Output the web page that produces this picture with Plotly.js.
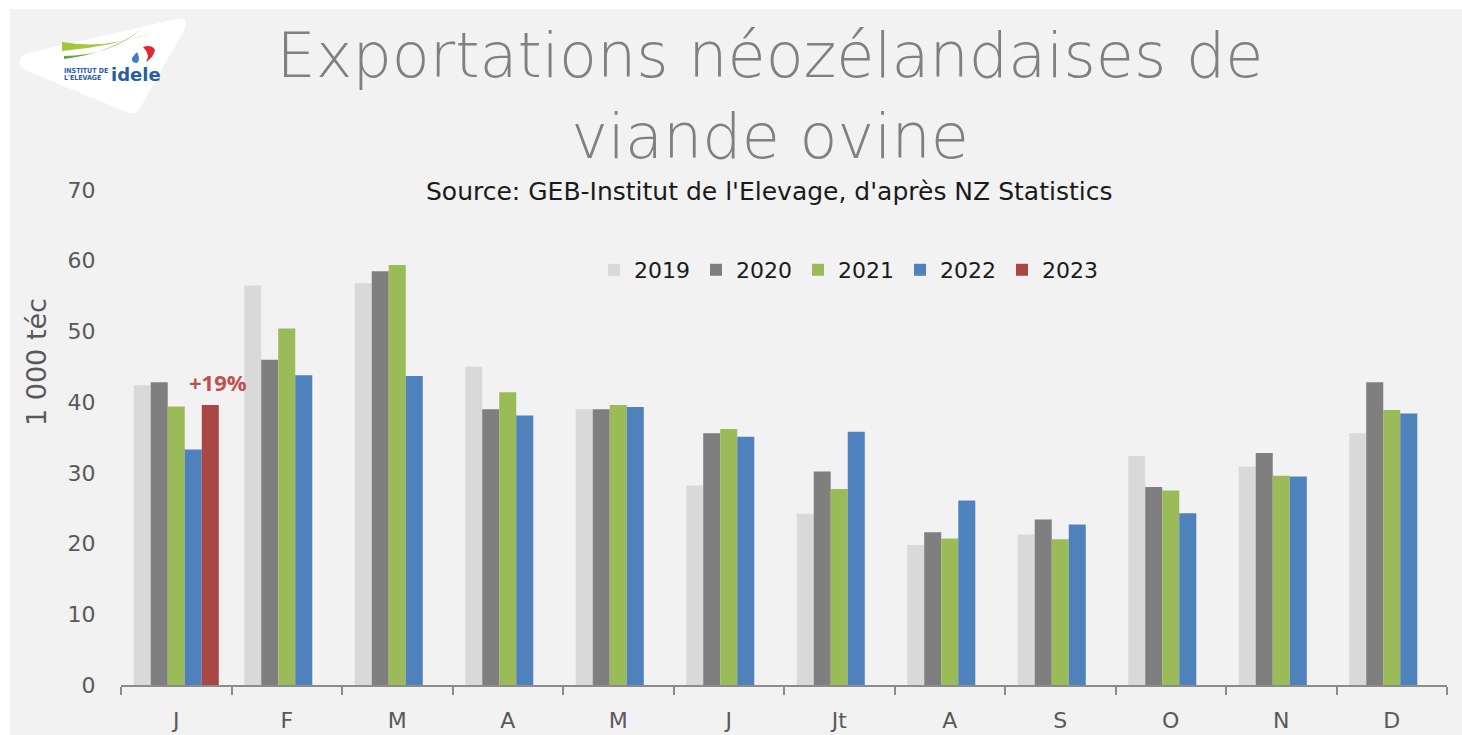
<!DOCTYPE html>
<html>
<head>
<meta charset="utf-8">
<script src="https://cdn.plot.ly/plotly-3.0.1.min.js"></script>
<style>
  html, body { margin: 0; padding: 0; background: #ffffff; }
  #chart { position: absolute; left: 10px; top: 9px; width: 1452px; height: 726px; }
</style>
</head>
<body>
<div id="chart"></div>
<script>
// ---- Data ----
const months = ['J', 'F', 'M', 'A', 'M', 'J', 'Jt', 'A', 'S', 'O', 'N', 'D'];
const years = ['2019', '2020', '2021', '2022', '2023'];
const v2019 = [42.4, 56.5, 56.8, 45.0, 39.0, 28.2, 24.2, 19.8, 21.3, 32.4, 30.9, 35.6];
const v2020 = [42.8, 46.0, 58.5, 39.0, 39.0, 35.6, 30.2, 21.6, 23.4, 28.0, 32.8, 42.8];
const v2021 = [39.4, 50.4, 59.4, 41.4, 39.6, 36.2, 27.7, 20.7, 20.6, 27.5, 29.6, 38.9];
const v2022 = [33.3, 43.8, 43.7, 38.1, 39.3, 35.1, 35.8, 26.1, 22.7, 24.3, 29.5, 38.4];
const v2023 = [39.6, null, null, null, null, null, null, null, null, null, null, null];
const yTicks = [0, 10, 20, 30, 40, 50, 60, 70];
const seriesValues = [v2019, v2020, v2021, v2022, v2023];
const colors = ['#d9d9d9', '#7f7f7f', '#9bbb59', '#4f81bd', '#aa4643'];

const FONT = '"DejaVu Sans", sans-serif';
const monthIdx = months.map((m, i) => i);

const traces = years.map((yr, k) => ({
  type: 'bar',
  name: yr,
  x: monthIdx,
  y: seriesValues[k],
  marker: { color: colors[k] },
  hoverinfo: 'skip'
}));

// page-pixel -> paper helpers (plot area: x 121..1447, y 190..685 on the page)
const PX0 = 121, PX1 = 1447, PY0 = 190, PY1 = 685;
const px = x => (x - PX0) / (PX1 - PX0);
const py = y => (PY1 - y) / (PY1 - PY0);
function path(pts) {
  return pts.map(p => {
    if (p[0] === 'Z') return 'Z';
    const out = [p[0]];
    for (let i = 1; i < p.length; i += 2) out.push(px(p[i]).toFixed(5) + ',' + py(p[i + 1]).toFixed(5));
    return out.join(' ');
  }).join(' ');
}

const shapes = [
  // logo white badge
  { type: 'path', xref: 'paper', yref: 'paper', layer: 'above',
    path: path([['M', 24, 54], ['L', 176, 19], ['Q', 190, 16, 184, 30], ['L', 140, 108], ['Q', 134, 117, 124, 111], ['L', 27, 71], ['Q', 14, 64, 24, 54], ['Z']]),
    fillcolor: '#ffffff', line: { width: 0 } },
  // green swooshes
  { type: 'path', xref: 'paper', yref: 'paper', layer: 'above',
    path: path([['M', 62, 42], ['Q', 105, 50, 155, 32], ['Q', 110, 47, 62, 51], ['Z']]),
    fillcolor: '#a8c63c', line: { width: 0 } },
  { type: 'path', xref: 'paper', yref: 'paper', layer: 'above',
    path: path([['M', 64, 56], ['Q', 110, 56, 143, 28], ['Q', 112, 53, 64, 59], ['Z']]),
    fillcolor: '#5fa83a', line: { width: 0 } },
  // red flag
  { type: 'path', xref: 'paper', yref: 'paper', layer: 'above',
    path: path([['M', 143, 47], ['Q', 152, 44, 155, 50], ['Q', 153, 58, 146, 62], ['Q', 151, 55, 143, 47], ['Z']]),
    fillcolor: '#e4262f', line: { width: 0 } },
  // blue drop
  { type: 'path', xref: 'paper', yref: 'paper', layer: 'above',
    path: path([['M', 137, 52], ['Q', 141, 60, 137, 63], ['Q', 131, 63, 132, 58], ['Q', 134, 55, 137, 52], ['Z']]),
    fillcolor: '#3d82c4', line: { width: 0 } }
];

const annotations = [
  { xref: 'paper', yref: 'paper', x: px(769), y: py(191), text: "Source: GEB-Institut de l'Elevage, d'après NZ Statistics",
    showarrow: false, xanchor: 'center', yanchor: 'middle', font: { family: FONT, size: 25, color: '#1a1a1a' } },
  { xref: 'paper', yref: 'paper', x: px(36), y: py(362), text: '1 000 téc', textangle: -90,
    showarrow: false, xanchor: 'center', yanchor: 'middle', font: { family: FONT, size: 27, color: '#595959' } },
  { xref: 'paper', yref: 'paper', x: px(218), y: py(382), text: '<b>+19%</b>',
    showarrow: false, xanchor: 'center', yanchor: 'middle', font: { family: '"Open Sans", sans-serif', size: 22, color: '#c0504d' } },
  // logo text
  { xref: 'paper', yref: 'paper', x: px(62), y: py(71), text: '<b>INSTITUT DE</b>',
    showarrow: false, xanchor: 'left', yanchor: 'middle', font: { family: '"DejaVu Sans Condensed", sans-serif', size: 7, color: '#2a5ca8' } },
  { xref: 'paper', yref: 'paper', x: px(62), y: py(78), text: "<b>L'ELEVAGE</b>",
    showarrow: false, xanchor: 'left', yanchor: 'middle', font: { family: '"DejaVu Sans Condensed", sans-serif', size: 7, color: '#2a5ca8' } },
  { xref: 'paper', yref: 'paper', x: px(136), y: py(74), text: '<b>idele</b>',
    showarrow: false, xanchor: 'center', yanchor: 'middle', font: { family: '"DejaVu Sans", sans-serif', size: 18, color: '#2a5ca8' } }
];

const layout = {
  width: 1452, height: 726,
  paper_bgcolor: '#f2f2f2', plot_bgcolor: '#f2f2f2',
  margin: { l: 111, r: 15, t: 181, b: 50 },
  barmode: 'group', bargap: 0.23, bargroupgap: 0,
  font: { family: FONT, color: '#595959' },
  title: {
    text: 'Exportations néozélandaises de<br>viande ovine',
    font: { family: FONT, size: 62, color: '#808080', weight: 200 },
    xref: 'container', x: (770 - 10) / 1452, xanchor: 'center',
    yref: 'container', y: 1 - (77 - 9) / 726, yanchor: 'top'
  },
  xaxis: {
    type: 'category',
    tickmode: 'array', tickvals: monthIdx, ticktext: months,
    tickson: 'boundaries', ticks: 'outside', ticklen: 8, tickcolor: '#8c8c8c', tickwidth: 2,
    showline: true, linecolor: '#8c8c8c', linewidth: 2,
    showgrid: false, zeroline: false, fixedrange: true,
    ticklabelstandoff: 15,
    tickfont: { family: FONT, size: 22, color: '#595959' }
  },
  yaxis: {
    range: [0, 70], tickmode: 'array', tickvals: yTicks,
    showgrid: false, zeroline: false, showline: false,
    ticks: 'outside', ticklen: 20, tickcolor: 'rgba(0,0,0,0)',
    tickfont: { family: FONT, size: 22, color: '#595959' }, fixedrange: true
  },
  showlegend: true,
  legend: {
    orientation: 'h', x: px(594), xanchor: 'left', y: py(270), yanchor: 'middle',
    bgcolor: 'rgba(0,0,0,0)', font: { family: FONT, size: 22, color: '#1a1a1a' },
    entrywidth: 57, entrywidthmode: 'pixels', itemwidth: 30, traceorder: 'normal'
  },
  shapes: shapes,
  annotations: annotations
};

Plotly.newPlot('chart', traces, layout, { displayModeBar: false, staticPlot: true });
</script>
</body>
</html>
